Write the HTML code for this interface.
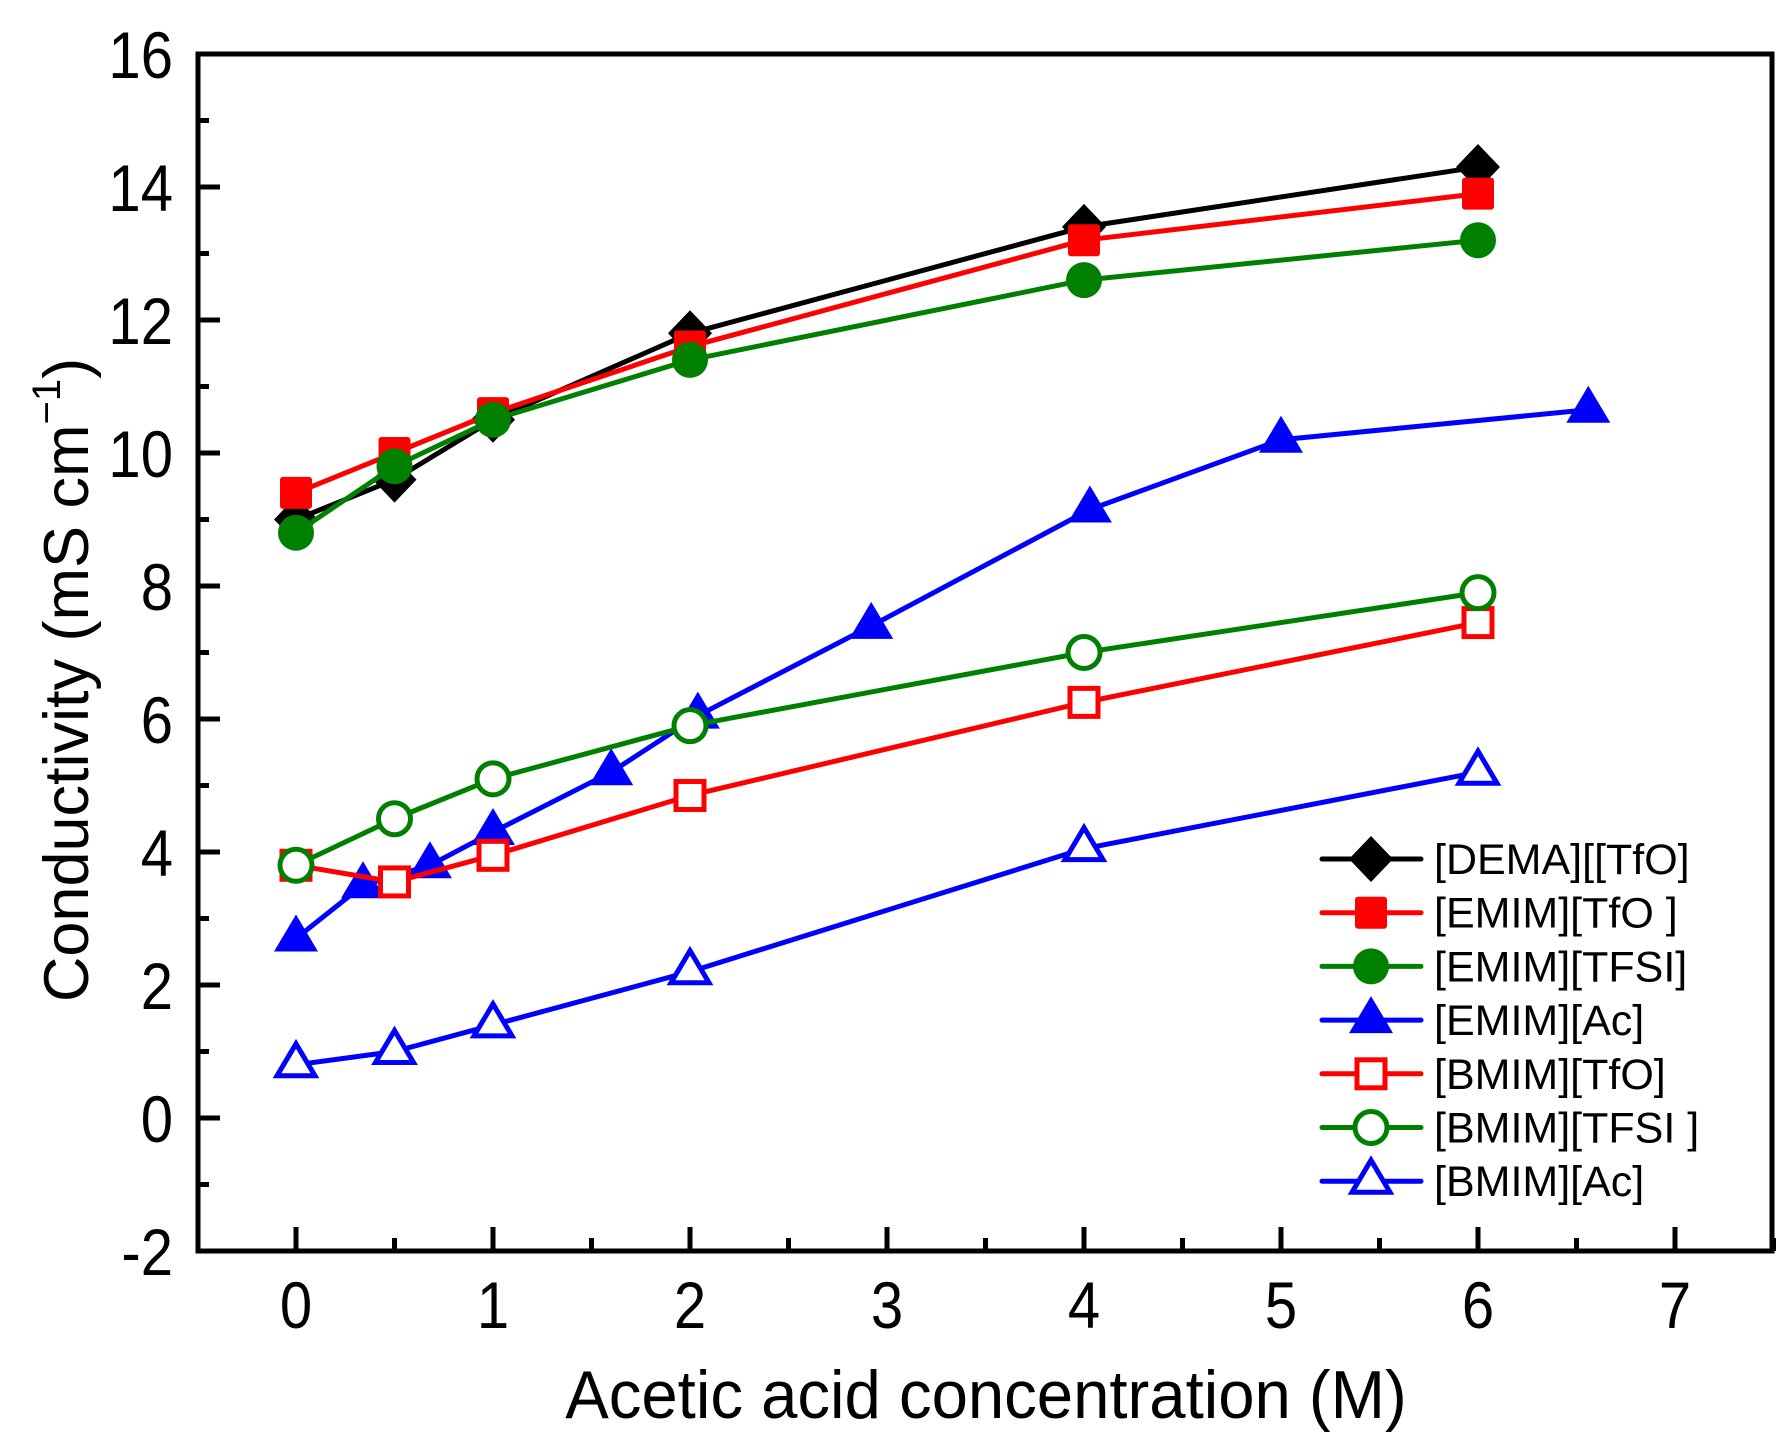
<!DOCTYPE html>
<html><head><meta charset="utf-8"><style>
html,body{margin:0;padding:0;background:#fff;}
svg{display:block;font-family:"Liberation Sans",Arial,sans-serif;}
</style></head><body>
<svg id="chart" width="1792" height="1451" viewBox="0 0 1792 1451" xmlns="http://www.w3.org/2000/svg">
<g id="axes"></g>
<g id="series"></g>
<g id="legend"></g>
<text transform="translate(986,1418) scale(0.96,1)" font-size="68" text-anchor="middle">Acetic acid concentration (M)</text>
<text transform="translate(88,680) rotate(-90)" font-size="63" text-anchor="middle">Conductivity (mS cm<tspan font-size="40" dy="-28">−1</tspan><tspan dy="28">)</tspan></text>
</svg>
<script>
const xTicks = [0,1,2,3,4,5,6,7];
const yTicks = [-2,0,2,4,6,8,10,12,14,16];
const xDEMA = [0,0.5,1,2,4,6];
const yDEMA = [9.0,9.6,10.5,11.8,13.4,14.3];
const xEMIMTfO = [0,0.5,1,2,4,6];
const yEMIMTfO = [9.4,10.0,10.6,11.6,13.2,13.9];
const xEMIMTFSI = [0,0.5,1,2,4,6];
const yEMIMTFSI = [8.8,9.8,10.5,11.4,12.6,13.2];
const xEMIMAc = [0,0.34,0.68,1.0,1.6,2.04,2.92,4.03,5.0,6.56];
const yEMIMAc = [2.7,3.5,3.8,4.3,5.2,6.05,7.4,9.15,10.2,10.65];
const xBMIMTfO = [0,0.5,1,2,4,6];
const yBMIMTfO = [3.8,3.55,3.95,4.85,6.25,7.45];
const xBMIMTFSI = [0,0.5,1,2,4,6];
const yBMIMTFSI = [3.8,4.5,5.1,5.9,7.0,7.9];
const xBMIMAc = [0,0.5,1,2,4,6];
const yBMIMAc = [0.8,1.0,1.4,2.2,4.05,5.2];
const seriesNames = ["[DEMA][[TfO]","[EMIM][TfO ]","[EMIM][TFSI]","[EMIM][Ac]","[BMIM][TfO]","[BMIM][TFSI ]","[BMIM][Ac]"];

const NS="http://www.w3.org/2000/svg";
const L=198,R=1772,T=54,B=1251;
function sx(v){return 296+v*197;}
function sy(v){return T+(16-v)*(B-T)/18;}
function mk(tag,attrs,parent){const e=document.createElementNS(NS,tag);for(const k in attrs)e.setAttribute(k,attrs[k]);parent.appendChild(e);return e;}
const axes=document.getElementById('axes');
const frame=mk('rect',{x:L,y:T,width:R-L,height:B-T,fill:'none',stroke:'#000','stroke-width':5},axes);


yTicks.forEach(v=>{
  const t=mk('line',{x1:L,x2:L+22,y1:sy(v),y2:sy(v),stroke:'#000','stroke-width':5},axes);
  
  
  if(v<16){const m=mk('line',{x1:L,x2:L+11,y1:sy(v+1),y2:sy(v+1),stroke:'#000','stroke-width':5},axes);
  
  }
  const lb=mk('text',{transform:`translate(173,${sy(v)+24}) scale(0.88,1)`,'font-size':66,'text-anchor':'end'},axes);
  lb.textContent=v;
  
  
});
xTicks.forEach(v=>{
  const t=mk('line',{x1:sx(v),x2:sx(v),y1:B,y2:B-24,stroke:'#000','stroke-width':5},axes);
  
  
  const m=mk('line',{x1:sx(v+0.5),x2:sx(v+0.5),y1:B,y2:B-13,stroke:'#000','stroke-width':5},axes);
  
  
  const lb=mk('text',{transform:`translate(${sx(v)},1328) scale(0.88,1)`,'font-size':66,'text-anchor':'middle'},axes);
  lb.textContent=v;
  
  
});
const styles=[
 {c:'#000',m:'diamond',f:true},{c:'#ff0000',m:'square',f:true},{c:'#008000',m:'circle',f:true},{c:'#0000ff',m:'triangle',f:true},
 {c:'#ff0000',m:'square',f:false},{c:'#008000',m:'circle',f:false},{c:'#0000ff',m:'triangle',f:false}];
function marker(g,type,x,y,c,filled){
  const fill=filled?c:'#fff', sw=filled?0:5;
  let e;
  if(type==='diamond') e=mk('polygon',{points:`${x},${y-23} ${x+22},${y} ${x},${y+23} ${x-22},${y}`,fill:fill},g);
  else if(type==='square') e=filled?mk('rect',{x:x-16,y:y-16,width:32,height:32,rx:3,fill:fill},g):mk('rect',{x:x-14,y:y-14,width:28,height:28,fill:fill,stroke:c,'stroke-width':sw},g);
  else if(type==='circle') e=filled?mk('circle',{cx:x,cy:y,r:18,fill:fill},g):mk('circle',{cx:x,cy:y,r:16,fill:fill,stroke:c,'stroke-width':sw},g);
  else e=filled?mk('polygon',{points:`${x},${y-24} ${x+22},${y+13} ${x-22},${y+13}`,fill:fill},g):mk('polygon',{points:`${x},${y-21} ${x+19},${y+11} ${x-19},${y+11}`,fill:fill,stroke:c,'stroke-width':sw,'stroke-linejoin':'miter'},g);
  
  
}
const xs=[xDEMA,xEMIMTfO,xEMIMTFSI,xEMIMAc,xBMIMTfO,xBMIMTFSI,xBMIMAc];
const ys=[yDEMA,yEMIMTfO,yEMIMTFSI,yEMIMAc,yBMIMTfO,yBMIMTFSI,yBMIMAc];
const sg=document.getElementById('series');
xs.forEach((xa,i)=>{
  const g=mk('g',{},sg);
  
  
  const pts=xa.map((x,j)=>sx(x)+','+sy(ys[i][j])).join(' ');
  const pl=mk('polyline',{points:pts,fill:'none',stroke:styles[i].c,'stroke-width':5,'stroke-linejoin':'round'},g);
  
  
  xa.forEach((x,j)=>marker(g,styles[i].m,sx(x),sy(ys[i][j]),styles[i].c,styles[i].f));
});
const lg=document.getElementById('legend');
seriesNames.forEach((n,i)=>{
  const y=859+i*53.7;
  const g=mk('g',{},lg);
  
  
  mk('line',{x1:1322,x2:1421,y1:y,y2:y,stroke:styles[i].c,'stroke-width':5,'stroke-linecap':'round'},g);
  marker(g,styles[i].m,1371,y,styles[i].c,styles[i].f);
  const t=mk('text',{x:1434,y:y+15,'font-size':43},g);
  t.textContent=n;
  
  
});
</script>
</body></html>
